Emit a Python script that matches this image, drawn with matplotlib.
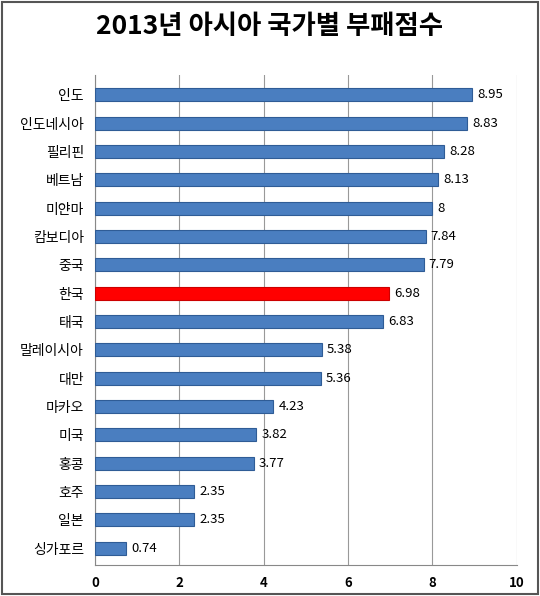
import matplotlib
matplotlib.use("Agg")
import matplotlib.pyplot as plt
from matplotlib.patches import Rectangle

plt.rcParams['font.family'] = ['Noto Sans CJK KR', 'DejaVu Sans']

countries = ['인도','인도네시아','필리핀','베트남','미얀마','캄보디아','중국','한국','태국',
             '말레이시아','대만','마카오','미국','홍콩','호주','일본','싱가포르']
scores = [8.95,8.83,8.28,8.13,8,7.84,7.79,6.98,6.83,5.38,5.36,4.23,3.82,3.77,2.35,2.35,0.74]
labels = ['8.95','8.83','8.28','8.13','8','7.84','7.79','6.98','6.83','5.38','5.36','4.23','3.82','3.77','2.35','2.35','0.74']
xticks = [0,2,4,6,8,10]

fig = plt.figure(figsize=(5.4,5.96), dpi=100)
fig.patches.append(Rectangle((0.003,0.003),0.994,0.994, transform=fig.transFigure,
                             fill=False, edgecolor='#555555', linewidth=1.5))
fig.text(0.5, 0.955, '2013년 아시아 국가별 부패점수', ha='center', va='center',
         fontsize=19, fontweight='bold')
ax = fig.add_axes([0.176, 0.052, 0.781, 0.822])
y = list(range(len(countries)))
colors = ['#FF0000' if c == '한국' else '#4A7EC0' for c in countries]
bars = ax.barh(y, scores, height=0.46, color=colors,
               edgecolor=['#CC0000' if c == '한국' else '#2F5C96' for c in countries], linewidth=0.8, zorder=3)
for yi, s, l in zip(y, scores, labels):
    ax.text(s + 0.12, yi, l, va='center', ha='left', fontsize=9.5, zorder=4)
ax.set_xlim(0, 10)
ax.set_ylim(len(countries) - 0.4, -0.7)
ax.set_yticks(y)
ax.set_yticklabels(countries, fontsize=10)
ax.set_xticks(xticks)
ax.set_xticklabels([str(t) for t in xticks], fontsize=9.5, fontweight='bold')
ax.grid(axis='x', color='#999999', linewidth=0.8, zorder=0)
for sp in ['top','right']:
    ax.spines[sp].set_visible(False)
ax.spines['left'].set_color('#888888')
ax.spines['bottom'].set_color('#888888')
ax.tick_params(length=0, pad=8)
fig.savefig('out.png', dpi=100)
